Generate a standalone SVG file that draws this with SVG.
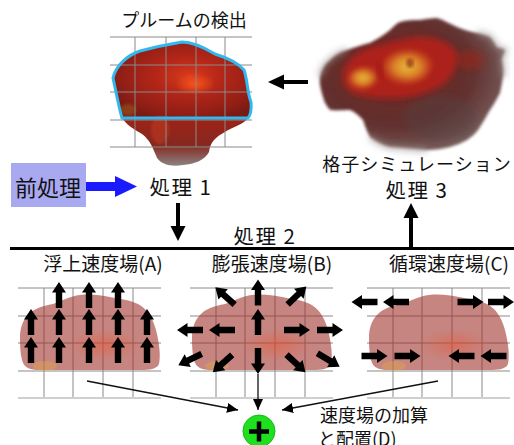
<svg xmlns="http://www.w3.org/2000/svg" xmlns:xlink="http://www.w3.org/1999/xlink" width="514" height="445" viewBox="0 0 514 445">
  <style>
    text { font-family: "Noto Sans CJK JP", "Noto Sans", sans-serif; fill: #111; }
    .lbl { font-size: 18px; }
    .plbl { font-size: 19px; }
    .proc { font-size: 20.5px; letter-spacing: 1.5px; }
    .grid { stroke: #8a8a8a; stroke-width: 1; fill: none; }
    .gridbase { stroke: #cfcfcf; stroke-width: 2; fill: none; }
    .thin { stroke: #111; stroke-width: 1.3; fill: none; }
    .big { fill: #000; }
  </style>
  <defs>
    <!-- fat block arrow pointing up, centred on the origin -->
    <path id="fat" d="M0,-13 L7,-2.5 L3.2,-2.5 L3.2,13 L-3.2,13 L-3.2,-2.5 L-7,-2.5 Z" fill="#000"/>
    <marker id="tip" markerUnits="userSpaceOnUse" markerWidth="11" markerHeight="10" refX="11" refY="5" orient="auto">
      <path d="M0,0 L11,5 L0,10 Z" fill="#000"/>
    </marker>
    <radialGradient id="plumeRed" cx="0.55" cy="0.45" r="0.6">
      <stop offset="0" stop-color="#d83a1a"/>
      <stop offset="0.4" stop-color="#b42618"/>
      <stop offset="0.85" stop-color="#8e1e15"/>
      <stop offset="1" stop-color="#7a1a14"/>
    </radialGradient>
    <linearGradient id="stem" x1="0" y1="118" x2="0" y2="167" gradientUnits="userSpaceOnUse">
      <stop offset="0" stop-color="#9e2216"/>
      <stop offset="0.55" stop-color="#86281f"/>
      <stop offset="1" stop-color="#8c8888"/>
    </linearGradient>
    <radialGradient id="glow" cx="0.5" cy="0.5" r="0.5">
      <stop offset="0" stop-color="#ff5a1c" stop-opacity="0.85"/>
      <stop offset="1" stop-color="#ff5a1c" stop-opacity="0"/>
    </radialGradient>
    <radialGradient id="smoke" cx="0.4" cy="0.4" r="0.7">
      <stop offset="0" stop-color="#6e2622"/>
      <stop offset="0.6" stop-color="#62302e"/>
      <stop offset="1" stop-color="#7a6866"/>
    </radialGradient>
    <radialGradient id="core" cx="0.5" cy="0.5" r="0.55">
      <stop offset="0" stop-color="#e8bc3a"/>
      <stop offset="0.5" stop-color="#e0902a" stop-opacity="0.9"/>
      <stop offset="1" stop-color="#d44a1c" stop-opacity="0.2"/>
    </radialGradient>
    <radialGradient id="blobGlow" cx="0.5" cy="0.5" r="0.5">
      <stop offset="0" stop-color="#e8583a" stop-opacity="0.5"/>
      <stop offset="1" stop-color="#e8583a" stop-opacity="0"/>
    </radialGradient>
    <filter id="soft" x="-10%" y="-10%" width="120%" height="120%">
      <feGaussianBlur stdDeviation="1.5"/>
    </filter>
    <filter id="mid" x="-20%" y="-20%" width="140%" height="140%">
      <feGaussianBlur stdDeviation="2.5"/>
    </filter>
    <filter id="softer" x="-20%" y="-20%" width="140%" height="140%">
      <feGaussianBlur stdDeviation="3"/>
    </filter>
    <!-- one velocity-field panel: grid with the translucent plume silhouette -->
    <g id="panel">
      <path class="grid" d="M18,288H161M18,316H161M18,343H161M18,371H161M44,288V398M73,288V398M103,288V398M133,288V398"/>
      <path class="gridbase" d="M18,398H161"/>
      <path d="M20,337 C20,328 23,320 28,315 C33,309 42,306 53,304 C62,301 70,296 80,295 C90,294 100,295 110,297 C120,299 130,300 138,304 C147,309 152,316 156,330 C159,342 161,355 159,364 C157,369 150,370 140,370 L40,370 C30,370 24,368 22,360 C20,352 20,345 20,337 Z" fill="#9c2c24" fill-opacity="0.58"/>
      <ellipse cx="105" cy="345" rx="35" ry="16" fill="url(#blobGlow)"/>
      <ellipse cx="45" cy="366" rx="12" ry="5" fill="#e8b040" fill-opacity="0.35"/>
    </g>
  </defs>

  <!-- plume detection -->
  <g id="detect">
    <text class="lbl" x="184" y="27" text-anchor="middle">プルームの検出</text>
    <path d="M113,78 C116,65 128,55 140,51 C155,47 170,44 182,42 C192,42 205,48 215,54 C228,58 238,63 244,70 C248,82 247,92 251,102 C252,110 250,116 248,118 L122,118 C119,108 116,92 113,78 Z" fill="url(#plumeRed)"/>
    <path d="M122,118 L248,118 C243,125 232,127 225,132 C215,137 210,143 209,152 C205,160 195,164 183,165 C172,167 162,165 157,158 C153,148 150,140 142,134 C133,129 126,124 122,118 Z" fill="url(#stem)"/>
    <ellipse cx="195" cy="84" rx="20" ry="11" fill="url(#glow)"/>
    <ellipse cx="160" cy="130" rx="9" ry="14" fill="#c03a1c" fill-opacity="0.55" filter="url(#soft)"/>
    <ellipse cx="128" cy="110" rx="8" ry="6" fill="#b0801c" fill-opacity="0.35" filter="url(#soft)"/>
    <path class="grid" d="M110,37H252M110,65H252M110,92H252M110,120H252M110,147H252M135,37V147M166,37V147M196,37V147M225,37V147" stroke="#777"/>
    <path d="M113,78 C116,65 128,55 140,51 C155,47 170,44 182,42 C192,42 205,48 215,54 C228,58 238,63 244,70 C248,82 247,92 251,102 C252,110 250,116 248,118 L122,118 C119,108 116,92 113,78 Z" fill="none" stroke="#33b8ee" stroke-width="3"/>
  </g>

  <!-- lattice simulation -->
  <g id="simulation">
    <path d="M320,77 C322,68 326,63 330,60 C336,54 341,52 347,50 C355,47 362,45 370,43 C378,39 385,34 390,30 C394,26 397,23 400,22 C407,20 414,20 420,20 C426,19 431,18 437,18 C444,20 450,24 457,27 C464,30 471,32 477,33 C482,34 486,35 490,37 C493,40 495,44 497,47 C500,48 503,49 505,50 C504,54 502,57 502,60 C503,66 504,71 503,77 C502,83 501,88 500,93 C497,99 494,104 490,110 C486,117 482,124 478,130 C475,134 471,137 467,140 C462,143 456,145 450,147 C442,149 435,150 427,150 C415,149 402,148 390,147 C382,145 375,141 370,137 C367,132 365,126 363,120 C359,116 355,112 350,110 C344,110 337,111 330,110 C326,106 324,101 323,97 C321,90 319,83 320,77 Z" fill="url(#smoke)" filter="url(#soft)"/>
    <path d="M320,77 C322,68 326,63 330,60 C336,54 341,52 347,50 M477,33 C482,34 486,35 490,37 C493,40 495,44 497,47 C500,48 503,49 505,50 C504,54 502,57 502,60 C503,66 504,71 503,77 M427,150 C415,149 402,148 390,147 C382,145 375,141 370,137" fill="none" stroke="#9a9090" stroke-width="6" stroke-opacity="0.55" filter="url(#softer)"/>
    <path d="M343,72 C346,60 356,52 372,47 C388,43 402,38 420,37 C436,37 450,42 457,52 C460,62 454,74 446,82 C436,90 420,96 402,98 C384,99 366,98 352,93 C345,88 341,80 343,72 Z" fill="#b8221a" fill-opacity="0.85" filter="url(#softer)"/>
    <path d="M383,62 C386,55 395,51 405,50 C415,48 426,52 431,58 C434,66 430,74 424,79 C416,84 404,85 394,83 C386,80 381,70 383,62 Z" fill="url(#core)" filter="url(#mid)"/>
    <path d="M348,78 C350,71 356,68 364,67 C372,66 378,70 378,77 C377,84 370,89 360,89 C352,89 347,84 348,78 Z" fill="url(#core)" filter="url(#mid)"/>
    <ellipse cx="410" cy="63" rx="4" ry="5" fill="#8a1a12" fill-opacity="0.6" filter="url(#soft)"/>
    <ellipse cx="380" cy="70" rx="3" ry="9" fill="#a01a12" fill-opacity="0.5" filter="url(#soft)"/>
    <ellipse cx="440" cy="118" rx="36" ry="22" fill="#52403e" fill-opacity="0.45" filter="url(#softer)"/>
    <ellipse cx="470" cy="60" rx="14" ry="10" fill="#a0241a" fill-opacity="0.5" filter="url(#softer)"/>
    <text class="lbl" x="417" y="171" text-anchor="middle" letter-spacing="1">格子シミュレーション</text>
  </g>

  <!-- preprocessing box -->
  <g id="pre">
    <rect x="11" y="163" width="75" height="44" fill="#a9a9f2"/>
    <text x="48" y="196" text-anchor="middle" font-size="22">前処理</text>
  </g>

  <g id="proc1"><text class="proc" x="181" y="195" text-anchor="middle">処理 1</text></g>
  <g id="proc3"><text class="proc" x="417" y="198" text-anchor="middle">処理 3</text></g>
  <g id="proc2"><text class="proc" x="265" y="244" text-anchor="middle">処理 2</text></g>

  <!-- buoyancy field -->
  <g id="panel-a">
    <text class="plbl" x="103" y="271" text-anchor="middle">浮上速度場(A)</text>
    <use xlink:href="#panel"/>
    <use xlink:href="#fat" x="59" y="295"/>
    <use xlink:href="#fat" x="89" y="295"/>
    <use xlink:href="#fat" x="118" y="295"/>
    <use xlink:href="#fat" x="31" y="322"/>
    <use xlink:href="#fat" x="59" y="322"/>
    <use xlink:href="#fat" x="89" y="322"/>
    <use xlink:href="#fat" x="118" y="322"/>
    <use xlink:href="#fat" x="147" y="322"/>
    <use xlink:href="#fat" x="31" y="350"/>
    <use xlink:href="#fat" x="59" y="350"/>
    <use xlink:href="#fat" x="89" y="350"/>
    <use xlink:href="#fat" x="118" y="350"/>
    <use xlink:href="#fat" x="147" y="350"/>
  </g>

  <!-- expansion field -->
  <g id="panel-b">
    <text class="plbl" x="272" y="271" text-anchor="middle">膨張速度場(B)</text>
    <use xlink:href="#panel" transform="translate(172,0)"/>
    <use xlink:href="#fat" transform="translate(258,292.5)"/>
    <use xlink:href="#fat" transform="translate(258,322)"/>
    <use xlink:href="#fat" transform="translate(258,361) rotate(180)"/>
    <use xlink:href="#fat" transform="translate(190,330) rotate(-90)"/>
    <use xlink:href="#fat" transform="translate(222,330) rotate(-90)"/>
    <use xlink:href="#fat" transform="translate(297,330) rotate(90)"/>
    <use xlink:href="#fat" transform="translate(330,330) rotate(90)"/>
    <use xlink:href="#fat" transform="translate(225,296) rotate(-48)"/>
    <use xlink:href="#fat" transform="translate(297,295.5) rotate(46)"/>
    <use xlink:href="#fat" transform="translate(222.5,363.5) rotate(-132)"/>
    <use xlink:href="#fat" transform="translate(190,359.5) rotate(-116)"/>
    <use xlink:href="#fat" transform="translate(296,363.5) rotate(133)"/>
    <use xlink:href="#fat" transform="translate(328.5,360) rotate(121)"/>
  </g>

  <!-- circulation field -->
  <g id="panel-c">
    <text class="plbl" x="449" y="271" text-anchor="middle">循環速度場(C)</text>
    <use xlink:href="#panel" transform="translate(349,0)"/>
    <use xlink:href="#fat" transform="translate(364.5,302) rotate(-90)"/>
    <use xlink:href="#fat" transform="translate(396,302) rotate(-90)"/>
    <use xlink:href="#fat" transform="translate(470.5,302) rotate(90)"/>
    <use xlink:href="#fat" transform="translate(501,302) rotate(90)"/>
    <use xlink:href="#fat" transform="translate(374.5,356) rotate(90)"/>
    <use xlink:href="#fat" transform="translate(407.5,356) rotate(90)"/>
    <use xlink:href="#fat" transform="translate(461.5,356) rotate(-90)"/>
    <use xlink:href="#fat" transform="translate(493.5,356) rotate(-90)"/>
  </g>

  <!-- summation of fields -->
  <g id="sum">
    <circle cx="259" cy="431" r="16" fill="#1fe01f" stroke="#18b818" stroke-width="1"/>
    <path d="M249,431.5H269M259,421.5V441.5" stroke="#000" stroke-width="4.5"/>
    <text class="lbl" x="320" y="422">速度場の加算</text>
    <text class="lbl" x="318" y="446">と配置(D)</text>
  </g>

  <g id="connectors">
    <!-- preprocessing to step 1 -->
    <rect x="86" y="182" width="31" height="9" fill="#1a1aff"/>
    <path d="M115,176 L137,186.5 L115,197 Z" fill="#1a1aff"/>
    <!-- simulation back to detection -->
    <rect x="281" y="80" width="27" height="4" class="big"/>
    <path class="big" d="M268,82 L284,74.5 L284,89.5 Z"/>
    <!-- step 1 down to step 2 -->
    <rect x="176" y="203" width="4" height="25" class="big"/>
    <path class="big" d="M170.5,226 L185.5,226 L178,241 Z"/>
    <!-- step 2 up to step 3 -->
    <rect x="409" y="216" width="4" height="31" class="big"/>
    <path class="big" d="M403.5,218 L418.5,218 L411,203 Z"/>
    <!-- divider -->
    <path d="M10,248.5H514" stroke="#000" stroke-width="3"/>
    <!-- fields into the sum -->
    <path class="thin" d="M87,381 L238,410" marker-end="url(#tip)"/>
    <path class="thin" d="M258,374 L258,410" marker-end="url(#tip)"/>
    <path class="thin" d="M438,381 L282,410" marker-end="url(#tip)"/>
  </g>
</svg>
